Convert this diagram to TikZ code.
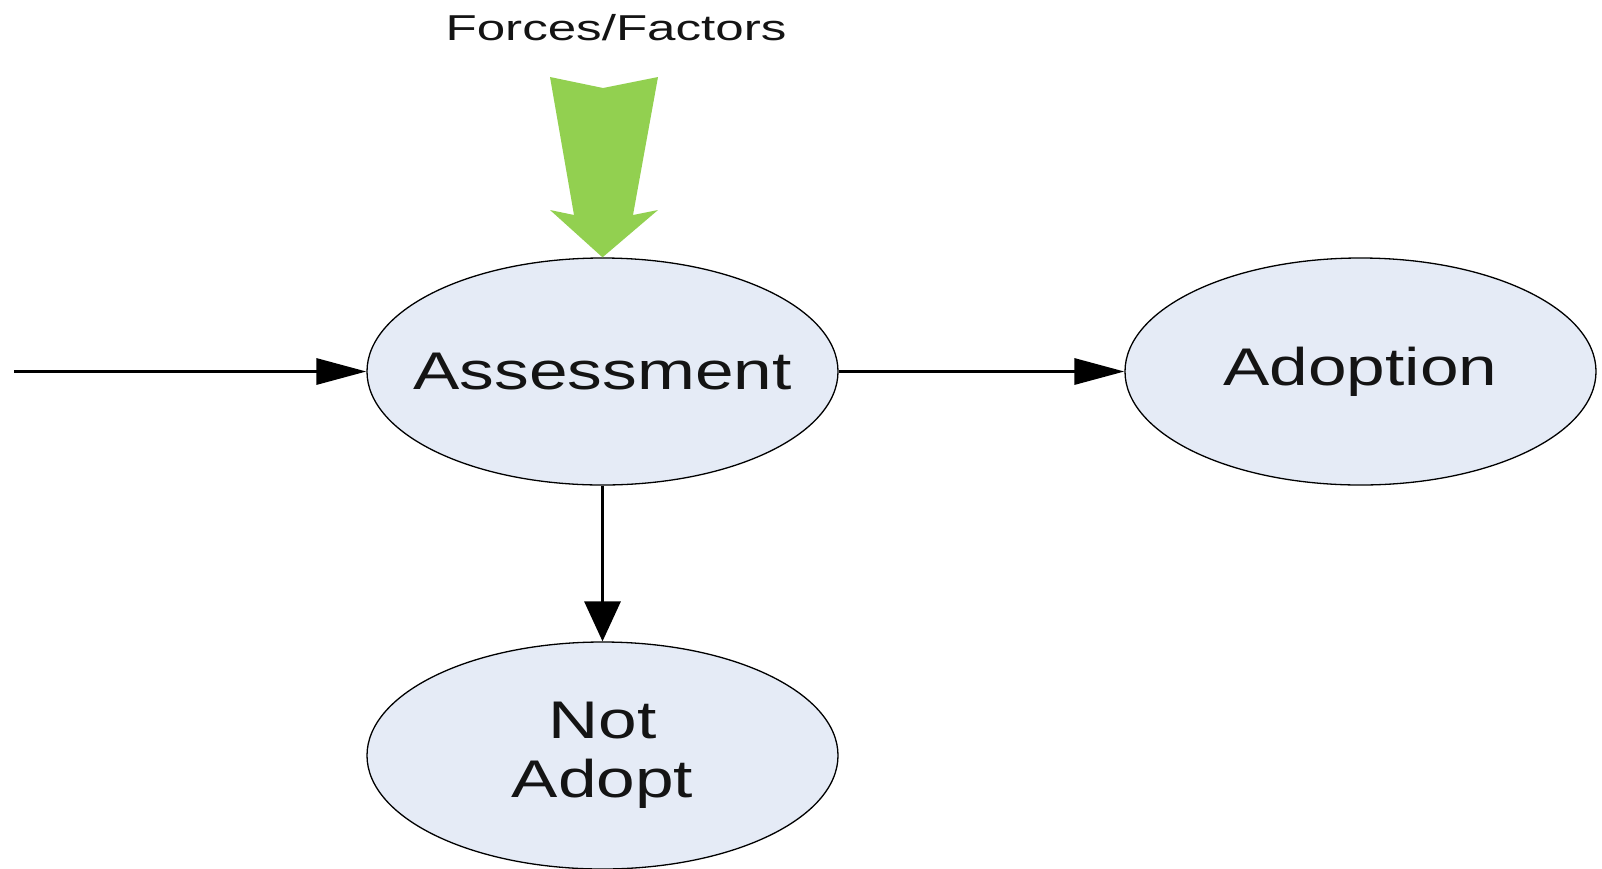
\documentclass[tikz,border=0pt]{standalone}
\usepackage{fontspec}
\setmainfont{Liberation Sans}
\usetikzlibrary{shapes.geometric,arrows.meta}
\definecolor{stategray}{HTML}{E5EBF6}
\definecolor{forcegreen}{HTML}{92D050}
\definecolor{inkgray}{HTML}{141414}
\tikzset{
  state/.style={ellipse, draw=black, line width=1.3pt, fill=stategray,
    minimum width=471pt, minimum height=227pt, inner sep=0pt},
  statetext/.style={font=\fontsize{53}{61}\selectfont, text=inkgray,
    align=center, inner sep=0pt},
  flowh/.style={line width=3.2pt, -{Triangle[length=50pt,width=26pt]}},
  flowv/.style={line width=3.2pt, -{Triangle[length=40pt,width=36pt]}},
}
\newcommand{\wide}[2]{\scalebox{#1}[1]{#2}}
\begin{document}
\begin{tikzpicture}[x=1pt,y=-1pt]
  \useasboundingbox (0,0) rectangle (1602,868);

  % states
  \node[state] (assess) at (602.5,371.5) {};
  \node[state] (adopt)  at (1360.5,371.5) {};
  \node[state] (notad)  at (602.5,755.5) {};
  \node[statetext] (assesst) at (assess.center) {\wide{1.31}{Assessment}};
  \node[statetext] (adoptt)  at (adopt.center) {\wide{1.31}{Adoption}};
  \node[statetext] (notadt)  at (notad.center) {\wide{1.31}{Not}\\[-2pt]\wide{1.31}{Adopt}};

  % flows between states
  \coordinate (start) at (14,371.5);
  \draw[flowh] (start) -- (assess.west);
  \draw[flowh] (assess.east) -- (adopt.west);
  \draw[flowv] (assess.south) -- (notad.north);

  % external forces
  \node[font=\fontsize{36}{40}\selectfont, text=inkgray, anchor=base] (forces)
    at (616,40) {\wide{1.42}{Forces/Factors}};
  \fill[forcegreen] (550,77) -- (603,88) -- (658,77) -- (633,215)
    -- (658,210) -- (assess.north) -- (550,210) -- (574,215) -- cycle;
\end{tikzpicture}
\end{document}
